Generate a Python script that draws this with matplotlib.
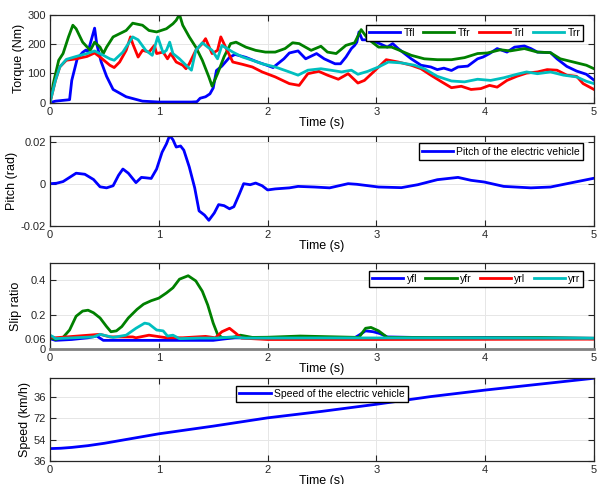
import matplotlib
matplotlib.use("Agg")
import matplotlib.pyplot as plt

plt.rcParams['font.family'] = ['Liberation Sans', 'DejaVu Sans']
plt.rcParams['font.size'] = 8

# ---- torque (Nm) ----
t_tfl = [0, 0.05, 0.18, 0.2, 0.25, 0.3, 0.33, 0.35, 0.38, 0.41, 0.43, 0.47, 0.52, 0.58, 0.7, 0.85,
         1.0, 1.3, 1.35, 1.38, 1.43, 1.47, 1.5, 1.53, 1.58, 1.65, 1.7, 1.8, 1.9, 2.0, 2.05, 2.1, 2.15,
         2.2, 2.28, 2.35, 2.45, 2.52, 2.62, 2.67, 2.72, 2.77, 2.8, 2.82, 2.84, 2.87, 2.92, 3.0, 3.1,
         3.15, 3.2, 3.32, 3.41, 3.5, 3.56, 3.62, 3.69, 3.75, 3.84, 3.93, 3.98, 4.04, 4.11, 4.2, 4.27,
         4.36, 4.42, 4.48, 4.6, 4.66, 4.75, 4.84, 4.93, 5.0]
tfl = [0, 5, 10, 76, 150, 172, 180, 175, 215, 255, 200, 140, 90, 45, 20, 5,
       2, 2, 3, 15, 20, 30, 50, 110, 125, 155, 165, 155, 140, 127, 120, 135, 150,
       170, 177, 150, 168, 150, 133, 133, 156, 185, 196, 207, 242, 215, 215, 207, 190,
       202, 185, 150, 128, 122, 113, 118, 110, 122, 125, 150, 156, 168, 185, 173, 190,
       194, 185, 173, 171, 150, 124, 108, 97, 77]

t_tfr = [0, 0.03, 0.08, 0.12, 0.17, 0.21, 0.24, 0.3, 0.37, 0.41, 0.46, 0.49, 0.52, 0.58, 0.64,
         0.7, 0.76, 0.81, 0.85, 0.91, 0.98, 1.07, 1.13, 1.16, 1.19, 1.22, 1.28, 1.34, 1.4, 1.46,
         1.49, 1.54, 1.6, 1.66, 1.71, 1.8, 1.89, 1.98, 2.07, 2.16, 2.23, 2.29, 2.4, 2.49, 2.55,
         2.63, 2.72, 2.8, 2.86, 2.92, 3.02, 3.14, 3.2, 3.32, 3.44, 3.56, 3.69, 3.81, 3.93, 4.02,
         4.14, 4.23, 4.36, 4.48, 4.6, 4.69, 4.81, 4.93, 5.0]
tfr = [0, 65, 145, 168, 225, 265, 253, 207, 179, 207, 190, 168, 190, 225, 236,
       247, 272, 268, 265, 247, 242, 253, 270, 282, 302, 265, 225, 190, 145, 88,
       56, 99, 157, 202, 207, 190, 179, 173, 173, 185, 205, 202, 179, 193, 173,
       168, 196, 205, 250, 219, 190, 190, 181, 162, 150, 147, 147, 154, 168, 170,
       181, 177, 185, 173, 171, 150, 139, 128, 116]

t_trl = [0, 0.05, 0.09, 0.15, 0.24, 0.34, 0.41, 0.46, 0.55, 0.59, 0.64, 0.7, 0.74, 0.76, 0.81,
         0.85, 0.91, 0.96, 0.98, 1.04, 1.08, 1.11, 1.16, 1.22, 1.25, 1.28, 1.34, 1.4, 1.43, 1.49,
         1.54, 1.57, 1.62, 1.68, 1.77, 1.86, 1.95, 2.07, 2.2, 2.29, 2.37, 2.47, 2.55, 2.65, 2.74,
         2.83, 2.89, 2.99, 3.09, 3.2, 3.32, 3.41, 3.5, 3.6, 3.69, 3.78, 3.87, 3.96, 4.04, 4.11,
         4.2, 4.29, 4.38, 4.48, 4.57, 4.66, 4.75, 4.84, 4.9, 5.0]
trl = [0, 76, 122, 145, 150, 158, 170, 156, 128, 120, 139, 179, 225, 202, 156,
       179, 173, 196, 168, 173, 150, 168, 139, 128, 116, 133, 179, 202, 219, 168,
       179, 225, 185, 139, 131, 122, 105, 88, 65, 59, 99, 107, 94, 80, 99,
       67, 76, 111, 147, 139, 128, 116, 94, 71, 51, 56, 45, 48, 59, 53,
       76, 90, 101, 105, 113, 111, 94, 90, 65, 45]

t_trr = [0, 0.05, 0.09, 0.15, 0.24, 0.34, 0.41, 0.49, 0.55, 0.59, 0.67, 0.72, 0.76, 0.81, 0.88,
         0.94, 0.99, 1.04, 1.07, 1.1, 1.13, 1.19, 1.25, 1.3, 1.34, 1.4, 1.45, 1.49, 1.54, 1.58,
         1.68, 1.77, 1.86, 1.95, 2.07, 2.2, 2.28, 2.37, 2.49, 2.58, 2.68, 2.77, 2.83, 2.92, 3.02,
         3.11, 3.23, 3.35, 3.44, 3.56, 3.69, 3.81, 3.93, 4.05, 4.17, 4.29, 4.38, 4.48, 4.6, 4.72,
         4.84, 4.93, 5.0]
trr = [0, 76, 122, 148, 158, 168, 177, 162, 150, 145, 173, 202, 225, 215, 179,
       162, 225, 170, 179, 207, 168, 150, 128, 111, 179, 205, 190, 179, 150, 196,
       173, 156, 145, 133, 122, 105, 94, 111, 116, 111, 105, 111, 97, 107, 122,
       139, 136, 128, 116, 90, 74, 71, 80, 76, 85, 97, 105, 99, 105, 94,
       88, 73, 65]

# ---- pitch (rad) ----
t_pitch = [0, 0.06, 0.12, 0.18, 0.24, 0.32, 0.4, 0.46, 0.52, 0.58, 0.63, 0.67, 0.72, 0.79,
           0.84, 0.88, 0.93, 0.98, 1.03, 1.07, 1.1, 1.13, 1.16, 1.2, 1.23, 1.28, 1.33, 1.37,
           1.42, 1.46, 1.51, 1.55, 1.6, 1.65, 1.69, 1.74, 1.78, 1.84, 1.89, 1.95, 2.0, 2.07,
           2.2, 2.28, 2.43, 2.57, 2.74, 2.82, 3.02, 3.23, 3.38, 3.56, 3.75, 3.87, 3.99, 4.17,
           4.42, 4.6, 4.78, 5.0]
pitch = [0, 0.0002, 0.001, 0.003, 0.005, 0.0045, 0.002, -0.0015, -0.002, -0.001, 0.004, 0.007,
         0.005, 0.0005, 0.003, 0.0028, 0.0025, 0.007, 0.015, 0.019, 0.023, 0.021, 0.0175, 0.018,
         0.016, 0.008, -0.002, -0.013, -0.015, -0.0175, -0.014, -0.01, -0.0105, -0.012, -0.011,
         -0.005, 0, -0.0005, 0.0003, -0.001, -0.003, -0.0025, -0.002, -0.0013, -0.0016, -0.002,
         0, -0.0003, -0.0016, -0.0019, -0.0005, 0.0019, 0.003, 0.0016, 0.0008, -0.0013, -0.002,
         -0.0016, 0.0003, 0.0026]

# ---- slip ratio ----
t_yfl = [0, 0.05, 0.2, 0.35, 0.43, 0.49, 0.6, 1.0, 1.5, 1.6, 1.7, 2.3, 2.8, 2.84, 2.9, 2.97,
         3.03, 3.1, 3.5, 4.0, 4.5, 5.0]
yfl = [0.06, 0.05, 0.055, 0.065, 0.075, 0.05, 0.05, 0.05, 0.05, 0.058, 0.065, 0.063, 0.065,
       0.08, 0.105, 0.1, 0.09, 0.07, 0.065, 0.066, 0.064, 0.062]

t_yfr = [0, 0.05, 0.12, 0.18, 0.24, 0.3, 0.35, 0.4, 0.46, 0.52, 0.56, 0.61, 0.66, 0.72, 0.8,
         0.86, 0.93, 1.0, 1.07, 1.13, 1.19, 1.27, 1.34, 1.4, 1.45, 1.5, 1.54, 1.58, 1.68, 1.75,
         1.86, 2.0, 2.3, 2.5, 2.84, 2.9, 2.95, 3.02, 3.1, 3.5, 4.0, 4.5, 5.0]
yfr = [0.067, 0.055, 0.067, 0.11, 0.19, 0.22, 0.225, 0.21, 0.18, 0.13, 0.1, 0.105, 0.13, 0.18,
       0.23, 0.26, 0.28, 0.295, 0.325, 0.355, 0.405, 0.425, 0.395, 0.335, 0.255, 0.15, 0.085,
       0.067, 0.067, 0.08, 0.067, 0.068, 0.075, 0.072, 0.067, 0.12, 0.125, 0.105, 0.067, 0.066,
       0.065, 0.066, 0.062]

t_yrl = [0, 0.05, 0.46, 0.55, 0.76, 0.79, 0.91, 1.07, 1.22, 1.43, 1.52, 1.58, 1.65, 1.71, 1.76,
         2.0, 3.0, 4.0, 5.0]
yrl = [0.07, 0.065, 0.085, 0.07, 0.07, 0.065, 0.08, 0.065, 0.065, 0.073, 0.065, 0.1, 0.12,
       0.09, 0.063, 0.055, 0.055, 0.056, 0.057]

t_yrr = [0, 0.03, 0.05, 0.4, 0.46, 0.58, 0.7, 0.79, 0.87, 0.91, 0.98, 1.04, 1.08, 1.13, 1.19,
         1.37, 1.53, 1.68, 1.8, 2.5, 3.5, 4.5, 5.0]
yrr = [0.08, 0.07, 0.06, 0.07, 0.085, 0.067, 0.08, 0.12, 0.15, 0.145, 0.11, 0.105, 0.075,
       0.08, 0.06, 0.063, 0.063, 0.07, 0.063, 0.064, 0.064, 0.063, 0.062]

# ---- speed (km/h) ----
t_speed = [0, 0.1, 0.2, 0.35, 0.5, 0.75, 1.0, 1.5, 2.0, 2.5, 3.0, 3.5, 4.0, 4.5, 5.0]
speed = [46.5, 46.8, 47.5, 49, 51, 55, 59, 65.5, 72.5, 78, 84, 90.5, 96, 101, 106]

speed_ticks = [36, 54, 72, 90]
speed_ticklabels = ['36', '54', '72', '36']
slip_ticks = [0, 0.06, 0.2, 0.4]
slip_ticklabels = ['0', '0.06', '0.2', '0.4']

BLUE, GREEN, RED, CYAN = (0, 0, 1), (0, 0.5, 0), (1, 0, 0), (0, 0.75, 0.75)
LW = 2.0
LEG = dict(fontsize=7.5, fancybox=False, edgecolor='black', handlelength=3.0,
           handletextpad=0.3, borderpad=0.3, framealpha=1)


def style(ax):
    ax.set_xlim(0, 5)
    ax.grid(True, color='#e6e6e6', linewidth=0.7)
    ax.set_axisbelow(True)
    ax.tick_params(direction='in', top=True, right=True, length=4, colors='#262626',
                   labelsize=8, pad=3)
    for s in ax.spines.values():
        s.set_color('#262626')
        s.set_linewidth(0.9)
    ax.set_xlabel('Time (s)', fontsize=9, labelpad=0)


fig = plt.figure(figsize=(5.97, 4.84), dpi=100)
W = 544 / 597
L = 50 / 597
ax1 = fig.add_axes([L, 0.788, W, 0.181])
ax2 = fig.add_axes([L, 0.534, W, 0.186])
ax3 = fig.add_axes([L, 0.279, W, 0.178])
ax4 = fig.add_axes([L, 0.0475, W, 0.171])

# torque
ax1.plot(t_tfl, tfl, color=BLUE, lw=LW, label='Tfl')
ax1.plot(t_tfr, tfr, color=GREEN, lw=LW, label='Tfr')
ax1.plot(t_trl, trl, color=RED, lw=LW, label='Trl')
ax1.plot(t_trr, trr, color=CYAN, lw=LW, label='Trr')
ax1.set_ylim(0, 300)
ax1.set_yticks([0, 100, 200, 300])
ax1.set_ylabel('Torque (Nm)', fontsize=9, labelpad=2)
style(ax1)
ax1.legend(loc='upper right', ncol=4, columnspacing=0.8,
           bbox_to_anchor=(0.99, 0.95), **LEG)

# pitch
ax2.plot(t_pitch, pitch, color=BLUE, lw=LW, label='Pitch of the electric vehicle')
ax2.set_ylim(-0.02, 0.023)
ax2.set_yticks([-0.02, 0, 0.02])
ax2.set_yticklabels(['-0.02', '0', '0.02'])
ax2.set_ylabel('Pitch (rad)', fontsize=9, labelpad=2)
style(ax2)
ax2.legend(loc='upper right', bbox_to_anchor=(0.99, 0.97), **LEG)

# slip
ax3.plot(t_yfl, yfl, color=BLUE, lw=LW, label='yfl')
ax3.plot(t_yfr, yfr, color=GREEN, lw=LW, label='yfr')
ax3.plot(t_yrl, yrl, color=RED, lw=LW, label='yrl')
ax3.plot(t_yrr, yrr, color=CYAN, lw=LW, label='yrr')
ax3.set_ylim(0, 0.5)
ax3.set_yticks(slip_ticks)
ax3.set_yticklabels(slip_ticklabels)
ax3.set_ylabel('Slip ratio', fontsize=9, labelpad=2)
style(ax3)
ax3.spines['bottom'].set_color('#808080')
ax3.spines['bottom'].set_linewidth(2)
ax3.legend(loc='upper right', ncol=4, columnspacing=0.8,
           bbox_to_anchor=(0.99, 0.97), **LEG)

# speed
ax4.plot(t_speed, speed, color=BLUE, lw=LW, label='Speed of the electric vehicle')
ax4.set_ylim(36, 106)
ax4.set_yticks(speed_ticks)
ax4.set_yticklabels(speed_ticklabels)
ax4.set_ylabel('Speed (km/h)', fontsize=9, labelpad=2)
style(ax4)
ax4.legend(loc='upper center', bbox_to_anchor=(0.5, 0.97), **LEG)

fig.savefig('out.png', dpi=100)
